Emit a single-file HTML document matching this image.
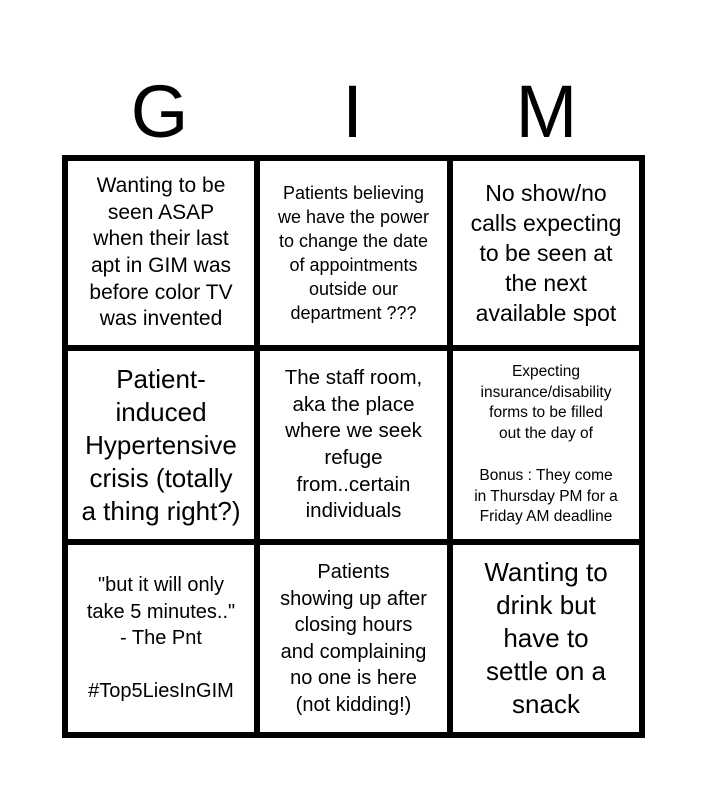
<!DOCTYPE html>
<html><head><style>
body{margin:0;background:#fff;width:707px;height:800px;position:relative;overflow:hidden;font-family:"Liberation Sans",Arial,sans-serif;color:#000}
.h{position:absolute;top:64px;font-size:74px;line-height:96px;width:193px;text-align:center}
.grid{position:absolute;left:62px;top:155px;width:583px;height:583px;background:#000}
.c{position:absolute;background:#fff;display:flex;align-items:center;justify-content:center;text-align:center;box-sizing:border-box;white-space:nowrap}
</style></head><body>
<div class="h" style="left:63px">G</div>
<div class="h" style="left:256px">I</div>
<div class="h" style="left:450px">M</div>
<div class="grid">
<div class="c" style="left:6px;top:6px;width:186px;height:184px;font-size:21px;line-height:26.7px">Wanting to be<br>seen ASAP<br>when their last<br>apt in GIM was<br>before color TV<br>was invented</div>
<div class="c" style="left:198px;top:6px;width:187px;height:184px;font-size:18px;line-height:24px">Patients believing<br>we have the power<br>to change the date<br>of appointments<br>outside our<br>department ???</div>
<div class="c" style="left:391px;top:6px;width:186px;height:184px;font-size:23px;line-height:30px">No show/no<br>calls expecting<br>to be seen at<br>the next<br>available spot</div>
<div class="c" style="left:6px;top:196px;width:186px;height:188px;font-size:26px;line-height:33px">Patient-<br>induced<br>Hypertensive<br>crisis (totally<br>a thing right?)</div>
<div class="c" style="left:198px;top:196px;width:187px;height:188px;font-size:20.5px;line-height:26.7px">The staff room,<br>aka the place<br>where we seek<br>refuge<br>from..certain<br>individuals</div>
<div class="c" style="left:391px;top:196px;width:186px;height:188px;font-size:15.5px;line-height:20.8px">Expecting<br>insurance/disability<br>forms to be filled<br>out the day of<br><br>Bonus : They come<br>in Thursday PM for a<br>Friday AM deadline</div>
<div class="c" style="left:6px;top:390px;width:186px;height:187px;font-size:20px;line-height:26.5px">"but it will only<br>take 5 minutes.."<br>- The Pnt<br><br>#Top5LiesInGIM</div>
<div class="c" style="left:198px;top:390px;width:187px;height:187px;font-size:20px;line-height:26.5px">Patients<br>showing up after<br>closing hours<br>and complaining<br>no one is here<br>(not kidding!)</div>
<div class="c" style="left:391px;top:390px;width:186px;height:187px;font-size:26px;line-height:33px">Wanting to<br>drink but<br>have to<br>settle on a<br>snack</div>
</div>
</body></html>
